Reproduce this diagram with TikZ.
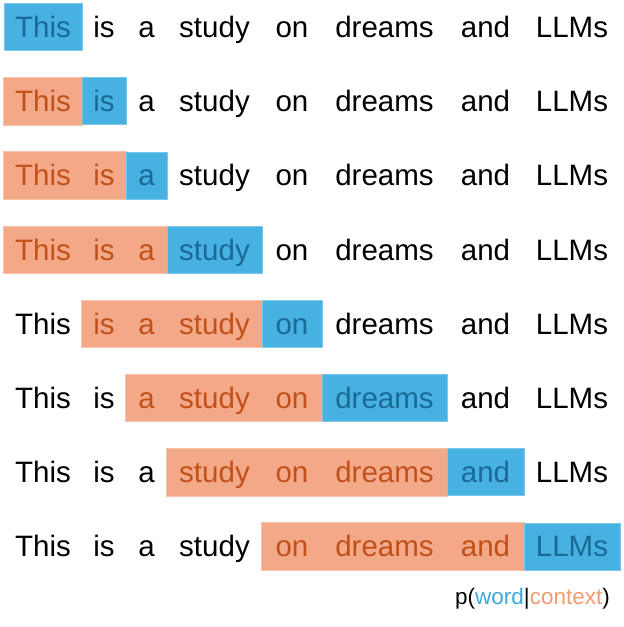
\documentclass[tikz,border=0pt]{standalone}
\usepackage{fontspec}
\setmainfont{Liberation Sans}
\usetikzlibrary{backgrounds}
\definecolor{bfill}{HTML}{47B1E1}
\definecolor{bedge}{HTML}{7CC8EC}
\definecolor{btext}{HTML}{1A6A98}
\definecolor{ofill}{HTML}{F3A987}
\definecolor{oedge}{HTML}{F7C4AB}
\definecolor{otext}{HTML}{C2501A}
\definecolor{wordc}{HTML}{3AA8E0}
\definecolor{ctxc}{HTML}{F49B6E}
\begin{document}
\begin{tikzpicture}[x=1pt,y=-1pt,
  cell/.style={inner sep=0pt, minimum height=47pt, text height=21pt, text depth=0pt,
    font=\fontsize{29.5}{34}\selectfont},
  plain/.style={cell, text=black},
  tgt/.style={cell, fill=bfill, draw=bedge, line width=0.8pt, text=btext},
  ctx/.style={cell, text=otext},
  ctxspan/.style={fill=ofill, draw=oedge, line width=0.8pt},
]
\useasboundingbox (0,0) rectangle (624,627);
\def\xs{{4,82,126,167,262,322,447,524,620}}
\foreach \r in {0,...,7}{
  \pgfmathtruncatemacro{\lo}{max(0,\r-3)}
  \foreach \w [count=\i from 0] in {This,is,a,study,on,dreams,and,LLMs}{
    \pgfmathsetmacro{\xa}{\xs[\i]}
    \pgfmathsetmacro{\xb}{\xs[\i+1]}
    \pgfmathsetmacro{\yc}{27+74.2*\r}
    \ifnum\i=\r
      \node[tgt, minimum width={\xb-\xa}] (w\r-\i) at ({(\xa+\xb)/2},\yc) {\w};
    \else
      \ifnum\i<\r
        \ifnum\i<\lo
          \node[plain, minimum width={\xb-\xa}] (w\r-\i) at ({(\xa+\xb)/2},\yc) {\w};
        \else
          \node[ctx, minimum width={\xb-\xa}] (w\r-\i) at ({(\xa+\xb)/2},\yc) {\w};
        \fi
      \else
        \node[plain, minimum width={\xb-\xa}] (w\r-\i) at ({(\xa+\xb)/2},\yc) {\w};
      \fi
    \fi
  }
  \ifnum\r>0
    \pgfmathtruncatemacro{\hi}{\r-1}
    \begin{scope}[on background layer]
      \draw[ctxspan] (w\r-\lo.north west) rectangle (w\r-\hi.south east);
    \end{scope}
  \fi
}
\node[anchor=base east, inner sep=0pt, font=\fontsize{22.5}{26}\selectfont] (formula) at (610,604)
  {p(\textcolor{wordc}{word}|\textcolor{ctxc}{context})};
\end{tikzpicture}
\end{document}
